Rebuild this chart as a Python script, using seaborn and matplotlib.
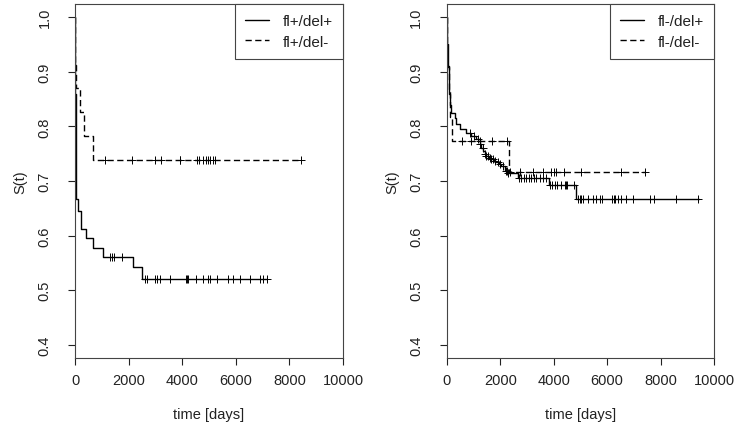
import numpy as np
import matplotlib
matplotlib.use("Agg")
import matplotlib.pyplot as plt
import seaborn as sns

sns.set_style("ticks")
plt.rcParams["font.family"] = ["Liberation Sans", "DejaVu Sans"]

# ── Kaplan-Meier step data ────────────────────────────────────────────────────
# left panel: fl+/del+ (solid)
lp_t = [0, 8, 16, 24, 32, 45, 105, 232, 393, 665, 1039, 2161, 2497]
lp_s = [1.0, 0.93, 0.86, 0.80, 0.77, 0.667, 0.645, 0.613, 0.595, 0.578, 0.560, 0.542, 0.520]
lp_end = 7160
lp_cens = [1316, 1376, 1450, 1750, 2598, 2684, 2998, 3073, 3159, 3533, 4131, 4179, 4232,
           4505, 4778, 4964, 5028, 5301, 5690, 5899, 6150, 6523, 6897, 6998, 7148]

# left panel: fl+/del- (dashed)
lm_t = [0, 5, 37, 168, 329, 665]
lm_s = [1.0, 0.913, 0.870, 0.826, 0.783, 0.739]
lm_end = 8420
lm_cens = [1129, 2123, 2998, 3222, 3906, 3933, 4553, 4628, 4778, 4879, 4964, 5054,
           5151, 5215, 8419]

# right panel: fl-/del+ (solid)
rp_t = [0, 5, 15, 25, 40, 60, 80, 100, 165, 290, 350, 475, 725, 912, 1100, 1225, 1290,
        1350, 1410, 1475, 1560, 1663, 1750, 1850, 1950, 2037, 2161, 2285, 2659, 3820, 4846]
rp_s = [1.0, 0.97, 0.95, 0.93, 0.91, 0.89, 0.86, 0.840, 0.825, 0.816, 0.804, 0.795,
        0.788, 0.782, 0.776, 0.767, 0.761, 0.755, 0.750, 0.746, 0.743, 0.740, 0.737,
        0.734, 0.731, 0.728, 0.718, 0.715, 0.706, 0.693, 0.667]
rp_end = 9457
rp_cens = [850, 1000, 1161, 1250, 1348, 1420, 1480, 1530, 1600, 1663, 1720, 1800, 1900,
           2000, 2100, 2200, 2250, 2300,
           2697, 2787, 2873, 2974, 3071, 3161, 3247, 3348, 3472, 3596, 3697,
           3873, 3948, 4034, 4120, 4285, 4408, 4446, 4494, 4745,
           4906, 4970, 5034, 5094, 5281, 5468, 5596, 5719, 5820, 6195, 6243, 6292,
           6404, 6532, 6719, 6966, 7592, 7742, 8592, 9401]

# right panel: fl-/del- (dashed)
rm_t = [0, 20, 60, 120, 200, 2322]
rm_s = [1.0, 0.909, 0.864, 0.818, 0.773, 0.716]
rm_end = 7404
rm_cens = [580, 900, 1225, 1700, 2250, 2348, 2723, 3221, 3596, 3910, 3996, 4097, 4371,
           5034, 6532, 7404]

x_ticks = [0, 2000, 4000, 6000, 8000, 10000]
y_ticks = [0.4, 0.5, 0.6, 0.7, 0.8, 0.9, 1.0]
DASH = (4.5, 2.5)
INK = "#222222"


def surv_at(times, surv, t):
    idx = np.searchsorted(times, t, side="right") - 1
    return np.asarray(surv)[idx]


def draw_curve(ax, times, surv, end, cens, label, dashed):
    xs = list(times) + [end]
    ys = list(surv) + [surv[-1]]
    line_kw = dict(dashes=DASH) if dashed else {}
    sns.lineplot(x=xs, y=ys, drawstyle="steps-post", estimator=None, sort=False,
                 color="black", linewidth=1.0, label=label, ax=ax, legend=False,
                 **line_kw)
    sns.scatterplot(x=cens, y=surv_at(times, surv, cens), marker="+", s=30,
                    color="black", linewidth=0.7, ax=ax, legend=False, zorder=3)


def style_axes(ax):
    ax.set_xlim(0, 10000)
    ax.set_ylim(0.376, 1.024)
    ax.set_xticks(x_ticks)
    ax.set_yticks(y_ticks)
    ax.set_yticklabels([f"{v:.1f}" for v in y_ticks], rotation=90, va="center")
    ax.tick_params(axis="both", length=5, width=0.8, colors=INK, labelsize=10.5)
    ax.tick_params(axis="x", pad=6)
    ax.tick_params(axis="y", pad=12)
    for sp in ax.spines.values():
        sp.set_visible(True)
        sp.set_color("#444444")
        sp.set_linewidth(0.8)
    ax.set_xlabel("time [days]", fontsize=10.5, color=INK, va="center")
    ax.set_ylabel("S(t)", fontsize=10.5, color=INK, va="center")
    ax.xaxis.set_label_coords(0.5, -0.158)
    ax.yaxis.set_label_coords(-0.205, 0.5)
    handles = ax.get_lines()[:2]
    leg = ax.legend(handles=handles, loc="upper right", borderaxespad=0,
                    fancybox=False, edgecolor="#444444", fontsize=11,
                    handlelength=1.6, handletextpad=0.9, labelspacing=0.45,
                    borderpad=0.65, framealpha=1)
    leg.get_frame().set_linewidth(0.8)
    for txt in leg.get_texts():
        txt.set_color(INK)


fig = plt.figure(figsize=(7.4, 4.39), dpi=100)
ax1 = fig.add_axes([0.1014, 0.1822, 0.3622, 0.8064])
ax2 = fig.add_axes([0.604, 0.1822, 0.3608, 0.8064])

draw_curve(ax1, lp_t, lp_s, lp_end, lp_cens, "fl+/del+", False)
draw_curve(ax1, lm_t, lm_s, lm_end, lm_cens, "fl+/del-", True)
draw_curve(ax2, rp_t, rp_s, rp_end, rp_cens, "fl-/del+", False)
draw_curve(ax2, rm_t, rm_s, rm_end, rm_cens, "fl-/del-", True)

style_axes(ax1)
style_axes(ax2)

fig.savefig("out.png", dpi=100)
